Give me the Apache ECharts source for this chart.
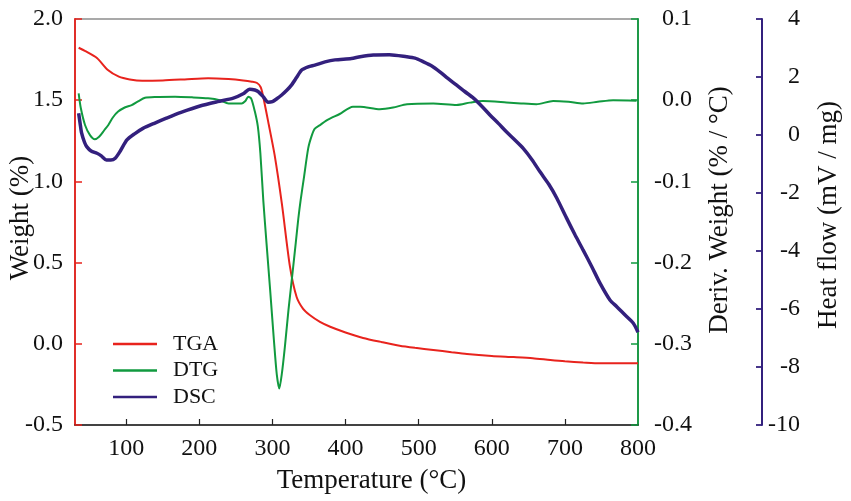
<!DOCTYPE html>
<html>
<head>
<meta charset="utf-8">
<script src="https://cdn.jsdelivr.net/npm/echarts@6/dist/echarts.min.js"></script>
<style>html,body{margin:0;padding:0;background:#fff}#c{width:851px;height:501px}</style>
</head>
<body>
<div id="c"></div>
<script>
// ---- data ----
const xTickValues = [100, 200, 300, 400, 500, 600, 700, 800];

const tgaT = [35, 45, 60, 75, 90, 105, 122, 150, 180, 212, 240, 260, 272, 279, 284, 287, 295, 303, 313, 324, 333, 342, 351, 365, 379, 400, 424, 450, 474, 495, 520, 545, 566, 600, 630, 656, 680, 700, 725, 748, 775, 800];
const tgaW = [1.823, 1.80, 1.76, 1.686, 1.645, 1.628, 1.62, 1.622, 1.628, 1.635, 1.63, 1.622, 1.614, 1.606, 1.58, 1.53, 1.35, 1.163, 0.86, 0.475, 0.29, 0.215, 0.177, 0.135, 0.105, 0.07, 0.036, 0.01, -0.012, -0.025, -0.038, -0.052, -0.063, -0.075, -0.082, -0.089, -0.10, -0.108, -0.115, -0.12, -0.12, -0.12];

const dtgT = [35, 38, 43.7, 50.5, 57, 63, 70, 75.6, 82, 89, 98, 107.5, 117, 125.7, 140, 166.8, 190, 212, 228, 240, 258, 263, 267, 271, 276, 280, 283.5, 287.5, 292, 297, 302, 306, 309.4, 313, 317, 322, 327, 332, 335.4, 338.6, 343, 349, 354, 358, 366, 376, 392, 410, 420, 447, 465, 484, 520, 552, 570, 588, 620, 640, 661, 684, 705, 725, 745, 766, 798];
const dtgD = [0.0085, -0.010, -0.0305, -0.043, -0.048, -0.045, -0.037, -0.0305, -0.021, -0.014, -0.009, -0.006, -0.001, 0.003, 0.004, 0.0043, 0.0035, 0.0023, 0.0, -0.004, -0.004, -0.001, 0.0043, 0.002, -0.014, -0.032, -0.065, -0.123, -0.177, -0.235, -0.295, -0.338, -0.355, -0.336, -0.304, -0.258, -0.217, -0.175, -0.146, -0.123, -0.096, -0.059, -0.043, -0.035, -0.030, -0.024, -0.017, -0.008, -0.008, -0.011, -0.009, -0.005, -0.004, -0.006, -0.003, -0.001, -0.0027, -0.004, -0.005, -0.001, -0.002, -0.004, -0.002, 0.0, -0.0006];

const dscT = [35, 37, 39, 43, 46, 52, 60, 66, 73, 79, 85, 92, 101, 112, 123, 140, 155, 175, 201, 225, 246.5, 260, 269, 276, 281, 288, 294, 300, 306, 312.7, 320, 326, 333, 340, 349, 358, 372, 385.6, 408, 420, 438, 460, 483.6, 495, 506, 518, 529, 540, 552, 563, 575, 586, 597.5, 609, 620, 632, 643, 655, 666, 678, 689, 702, 714, 725, 737, 748, 761.6, 771, 782, 793.6, 800];
const dscH = [0.75, 0.40, 0.07, -0.25, -0.40, -0.55, -0.63, -0.72, -0.86, -0.86, -0.80, -0.55, -0.17, 0.05, 0.23, 0.42, 0.58, 0.78, 1.00, 1.15, 1.27, 1.42, 1.58, 1.55, 1.49, 1.30, 1.13, 1.15, 1.25, 1.38, 1.55, 1.72, 1.98, 2.24, 2.35, 2.41, 2.52, 2.59, 2.64, 2.70, 2.76, 2.77, 2.70, 2.65, 2.53, 2.38, 2.18, 1.95, 1.72, 1.50, 1.27, 1.00, 0.69, 0.40, 0.11, -0.18, -0.46, -0.85, -1.27, -1.70, -2.18, -2.85, -3.45, -3.97, -4.55, -5.11, -5.69, -5.92, -6.20, -6.49, -6.80];

const RED = '#e8231d', GREEN = '#119a3f', PURPLE = '#33207d';
const FONT = '"Liberation Serif", "Times New Roman", serif';

const pairs = (xs, ys) => xs.map((x, i) => [x, ys[i]]);

const chart = echarts.init(document.getElementById('c'), null, {renderer: 'canvas'});
chart.setOption({
  animation: false,
  backgroundColor: '#fff',
  textStyle: {fontFamily: FONT},
  grid: {left: 75, right: 213, top: 19, bottom: 76, show: true, borderColor: '#555', borderWidth: 1.2, backgroundColor: 'transparent', containLabel: false, outerBoundsMode: 'none'},
  legend: {
    orient: 'vertical', left: 108, top: 328, itemWidth: 44, itemHeight: 2.5, itemGap: 4.5,
    icon: 'rect',
    textStyle: {fontFamily: FONT, fontSize: 22, color: '#111', padding: [0, 0, 0, 11]},
    data: ['TGA', 'DTG', 'DSC']
  },
  xAxis: {
    type: 'value', min: 30, max: 800,
    name: 'Temperature (\u00B0C)', nameLocation: 'middle', nameGap: 42, nameMoveOverlap: false,
    nameTextStyle: {fontFamily: FONT, fontSize: 27, color: '#111', padding: [0, 0, 0, 30]},
    axisLine: {show: true, onZero: false, lineStyle: {color: '#222', width: 1.5}},
    axisTick: {show: true, inside: true, length: 6, customValues: xTickValues.slice(0, 7), lineStyle: {color: '#222', width: 1.2}},
    axisLabel: {customValues: xTickValues, margin: 12, fontFamily: FONT, fontSize: 24, color: '#111'},
    splitLine: {show: false}
  },
  yAxis: [
    {
      type: 'value', position: 'left', min: -0.5, max: 2.0, interval: 0.5,
      name: 'Weight (%)', nameLocation: 'middle', nameGap: 41, nameRotate: 90, nameMoveOverlap: false,
      nameTextStyle: {fontFamily: FONT, fontSize: 27, color: '#111', padding: [0, 0, 0, 8]},
      axisLine: {show: true, onZero: false, lineStyle: {color: RED, width: 1.8}},
      axisTick: {show: true, inside: true, length: 7, lineStyle: {color: RED, width: 1.5}},
      axisLabel: {margin: 12, fontFamily: FONT, fontSize: 24, color: '#111', formatter: v => v.toFixed(1)},
      splitLine: {show: false}
    },
    {
      type: 'value', position: 'right', min: -0.4, max: 0.1, interval: 0.1,
      name: 'Deriv. Weight (% / \u00B0C)', nameLocation: 'middle', nameGap: 68, nameRotate: 90, nameMoveOverlap: false,
      nameTextStyle: {fontFamily: FONT, fontSize: 27, color: '#111', padding: [0, 0, 0, 24]},
      axisLine: {show: true, onZero: false, lineStyle: {color: GREEN, width: 1.8}},
      axisTick: {show: true, inside: true, length: 7, lineStyle: {color: GREEN, width: 1.5}},
      axisLabel: {margin: 54, align: 'right', fontFamily: FONT, fontSize: 24, color: '#111', formatter: v => (Math.abs(v) < 1e-9 ? 0 : v).toFixed(1)},
      splitLine: {show: false}
    },
    {
      type: 'value', position: 'right', offset: 124, min: -10, max: 4, interval: 2,
      name: 'Heat flow (mV / mg)', nameLocation: 'middle', nameGap: 53, nameRotate: 90, nameMoveOverlap: false,
      nameTextStyle: {fontFamily: FONT, fontSize: 27, color: '#111', padding: [0, 0, 0, 14]},
      axisLine: {show: true, onZero: false, lineStyle: {color: PURPLE, width: 2}},
      axisTick: {show: true, inside: true, length: 6, lineStyle: {color: PURPLE, width: 1.8}},
      axisLabel: {margin: 38, align: 'right', fontFamily: FONT, fontSize: 24, color: '#111'},
      splitLine: {show: false}
    }
  ],
  series: [
    {name: 'TGA', type: 'line', yAxisIndex: 0, data: pairs(tgaT, tgaW), showSymbol: false, smooth: 0.25, color: RED, lineStyle: {color: RED, width: 2}, z: 3},
    {name: 'DTG', type: 'line', yAxisIndex: 1, data: pairs(dtgT, dtgD), showSymbol: false, smooth: 0.25, color: GREEN, lineStyle: {color: GREEN, width: 2}, z: 3},
    {name: 'DSC', type: 'line', yAxisIndex: 2, data: pairs(dscT, dscH), showSymbol: false, smooth: 0.25, color: PURPLE, lineStyle: {color: PURPLE, width: 3.5}, z: 4}
  ]
});
</script>
</body>
</html>
